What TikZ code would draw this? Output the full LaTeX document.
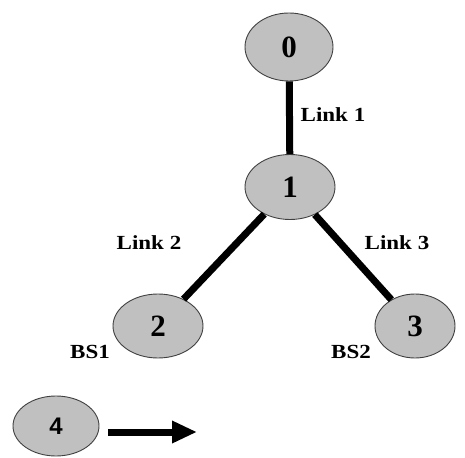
\documentclass[tikz,border=0pt]{standalone}
\usepackage{fontspec}
\setmainfont{Liberation Serif}
\newfontfamily\arialfont{Liberation Sans}
\usetikzlibrary{arrows.meta,shapes.geometric}
\definecolor{nodegray}{RGB}{192,192,192}
\tikzset{
  bsnode/.style={ellipse, draw=black!75, line width=0.9pt, fill=nodegray, inner sep=0pt, font=\bfseries\fontsize{31}{31}\selectfont},
  linkline/.style={line width=7pt},
  lbl/.style={font=\bfseries\fontsize{20}{20}\selectfont, inner sep=0pt, xscale=1.15}
}
\begin{document}
\begin{tikzpicture}[x=1pt,y=-1pt]
\useasboundingbox (0,0) rectangle (465,457);
\node[bsnode, minimum width=88pt, minimum height=68pt] (n0) at (289,47) {0};
\node[bsnode, minimum width=90pt, minimum height=65pt] (n1) at (290,187) {1};
\node[bsnode, minimum width=90pt, minimum height=64pt] (n2) at (158,326) {2};
\node[bsnode, minimum width=80pt, minimum height=64pt] (n3) at (415,326) {3};
\node[bsnode, minimum width=86pt, minimum height=60pt, font=\arialfont\bfseries\fontsize{24}{24}\selectfont] (n4) at (56,426) {4};
\draw[linkline] (n0) -- (n1);
\draw[linkline] (n1) -- (n2);
\draw[linkline] (n1) -- (n3);
\coordinate (a0) at (108,432);
\coordinate (a1) at (197,432);
\draw[line width=7pt, -{Triangle[length=25pt,width=21pt]}] (a0) -- (a1);
\node[lbl] (l1) at (333,115) {Link 1};
\node[lbl] (l2) at (149,243) {Link 2};
\node[lbl] (l3) at (397,243) {Link 3};
\node[lbl] (b1) at (90,352) {BS1};
\node[lbl] (b2) at (351,352) {BS2};
\end{tikzpicture}
\end{document}
